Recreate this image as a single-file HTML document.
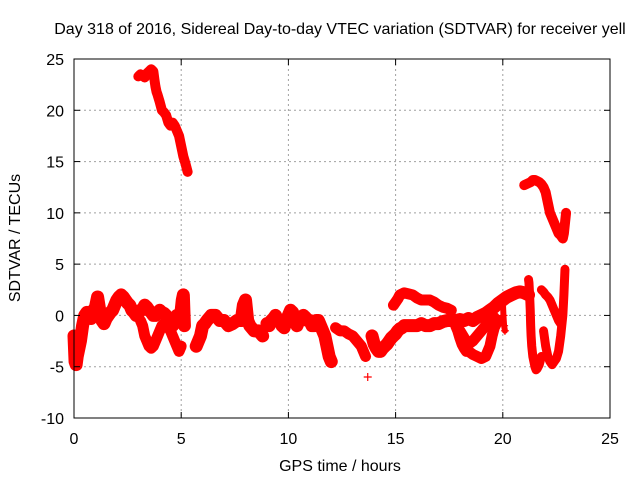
<!DOCTYPE html>
<html><head><meta charset="utf-8"><style>
body{margin:0;background:#fff;}
svg text{font-family:"Liberation Sans",sans-serif;font-size:16px;fill:#000;}
</style></head><body>
<svg id="chart" width="640" height="480" xmlns="http://www.w3.org/2000/svg">
<rect width="640" height="480" fill="#fff"/>
<g id="grid"></g>
<g id="marks"></g>
<g id="axes"></g>
<text x="340" y="34" text-anchor="middle">Day 318 of 2016, Sidereal Day-to-day VTEC variation (SDTVAR) for receiver yell</text>
<text x="340" y="471" text-anchor="middle">GPS time / hours</text>
<text x="0" y="0" text-anchor="middle" transform="translate(20,238) rotate(-90)">SDTVAR / TECUs</text>
</svg>
<script>
const xTicks=[0,5,10,15,20,25];
const yTicks=[-10,-5,0,5,10,15,20,25];
const tA_t=[0.0,0.05,0.1,0.15,0.2,0.3,0.4,0.5,0.6,0.7,0.8,0.9,1.0,1.1,1.2,1.3,1.4,1.5,1.6,1.7,1.8,1.9,2.0,2.1,2.2,2.3,2.4,2.5,2.6,2.7,2.8,2.9,3.0,3.1,3.2,3.3,3.4,3.5,3.6,3.7,3.8,3.9,4.0,4.1,4.2,4.3,4.4,4.5,4.6,4.7,4.8,4.9,5.0,5.05,5.1,5.15];
const tA_v=[-2,-4.5,-4.8,-4,-3.5,-2.5,-1,0,0.3,0,-0.3,0.5,0.8,1.8,0.5,-0.5,-0.8,-0.3,0,0.3,0.5,1.0,1.5,1.8,2.0,1.8,1.5,1.2,1.0,0.5,0.3,0,0.2,0.5,0.6,1.0,0.8,0.5,0.3,0,0,0.2,0.5,0.3,0.2,0,-0.5,-0.8,-1,-0.5,0,-0.5,0.5,1.5,2,-1];
const tB_t=[3.1,3.2,3.3,3.4,3.5,3.6,3.7,3.8,3.9,4.0,4.1,4.2,4.3,4.4,4.5,4.6,4.7,4.8,4.9,5.0];
const tB_v=[-0.5,-1,-2,-2.5,-3,-3.2,-3,-2.5,-2,-1.5,-1,-0.8,-1,-1.2,-1.5,-2,-2.5,-3,-3.5,-3];
const tC_t=[5.7,5.8,5.9,6.0,6.1,6.2,6.4,6.6,6.8,7.0,7.2,7.4,7.6,7.8,7.9,8.0,8.1,8.2,8.4,8.6,8.8];
const tC_v=[-3,-2.5,-2,-1,-0.8,-0.5,0,0,-0.5,-0.5,-1,-0.8,-0.5,-0.5,1,1.5,-0.5,-1,-1.5,-1.5,-2];
const tD_t=[9.0,9.1,9.2,9.3,9.4,9.5,9.6,9.7,9.8,9.9,10.0,10.1,10.2,10.3,10.4,10.5,10.6,10.7,10.8,10.9,11.0,11.1,11.2,11.3,11.4,11.5,11.6,11.7,11.8,11.9,12.0];
const tD_v=[-0.8,-1,-0.5,-0.3,0,-0.5,-0.5,-1,-1.2,-0.5,0,0.5,0.3,-0.5,-1,-0.5,-0.3,0,-0.2,-0.5,-0.5,-1,-1,-0.5,-0.5,-1,-1.5,-2,-3,-4,-4.5];
const tE_t=[12.2,12.4,12.6,12.8,13.0,13.2,13.4,13.5,13.6];
const tE_v=[-1.2,-1.5,-1.5,-1.8,-2,-2.5,-3,-3.5,-4];
const tP_t=[13.7];
const tP_v=[-6];
const tF_t=[13.9,14.0,14.1,14.2,14.3,14.4,14.5,14.6,14.7,14.8,14.9,15.0,15.1,15.2,15.3,15.4,15.6,15.8,16.0,16.2,16.4,16.6,16.8,17.0,17.2,17.4,17.6,17.8,18.0,18.2,18.4,18.6,18.8,19.0,19.2,19.4,19.6,19.8,20.0,20.2,20.4,20.6,20.8,21.0,21.2];
const tF_v=[-2,-2.8,-3.2,-3.5,-3.5,-3.2,-3,-2.8,-2.5,-2.2,-2,-1.8,-1.5,-1.3,-1.2,-1,-1,-1,-1,-0.8,-1,-1,-0.8,-0.8,-0.6,-0.5,-0.5,-0.5,-0.4,-0.5,-0.3,-0.5,-0.2,0,0.2,0.5,0.8,1.2,1.5,1.8,2.0,2.2,2.3,2.2,2.0];
const tG_t=[14.9,15.0,15.1,15.2,15.4,15.6,15.8,16.0,16.2,16.4,16.6,16.8,17.0,17.2,17.4,17.6];
const tG_v=[1,1.3,1.6,2.0,2.2,2.1,2.0,1.7,1.5,1.5,1.5,1.3,1.0,0.8,0.7,0.5];
const tH_t=[17.8,17.9,18.0,18.1,18.2,18.3,18.4,18.6,18.8,19.0,19.2,19.3,19.4,19.5,19.6,19.7,19.8];
const tH_v=[-1,-1.5,-2.2,-2.8,-3.2,-3.5,-3.5,-3.8,-4,-4.2,-4,-3.5,-3,-2,-1.2,-0.8,-0.5];
const tI_t=[18.0,18.2,18.4,18.6,18.8,19.0,19.2,19.4,19.6];
const tI_v=[-1.5,-2.2,-2.8,-2.5,-2,-1.5,-1,-0.5,-0.2];
const tJ_t=[21.2,21.22,21.25,21.28,21.3,21.32,21.35,21.4,21.45,21.5,21.55,21.6,21.7,21.8];
const tJ_v=[3.5,3.2,2,0.5,-1,-2,-3,-4,-4.5,-5,-5.3,-5.2,-4.8,-4];
const tK_t=[21.8,21.9,22.0,22.1,22.2,22.3,22.4,22.5,22.6,22.7,22.75,22.8];
const tK_v=[2.5,2.3,2.0,1.8,1.5,1.0,0.5,0,-0.5,-0.8,-0.5,0.5];
const tL_t=[21.9,22.0,22.1,22.2,22.3,22.4,22.5,22.6,22.7,22.8,22.85,22.9];
const tL_v=[-1.5,-3,-4,-4.5,-4.8,-4.5,-4.2,-3.5,-2,0,2,4.5];
const tM_t=[20.0,20.03,20.06,20.1];
const tM_v=[1.5,0,-1,-1.5];
const tN_t=[3.0,3.1,3.2,3.3,3.4,3.5,3.6,3.7,3.75,3.8,3.85,3.9,4.0,4.1,4.2,4.3,4.4,4.5,4.6,4.7,4.8,4.9,5.0,5.1,5.2,5.3];
const tN_v=[23.3,23.5,23.4,23.2,23.6,23.8,24,23.8,23,22.3,21.8,21.5,20.8,20,19.8,19.5,18.8,18.5,18.8,18.5,18,17.5,16.5,15.5,14.8,14];
const tO_t=[21.0,21.1,21.2,21.3,21.4,21.5,21.6,21.7,21.8,21.9,22.0,22.1,22.2,22.3,22.4,22.5,22.6,22.7,22.8,22.85,22.9,22.95];
const tO_v=[12.7,12.8,12.9,13.0,13.2,13.2,13.1,13.0,12.8,12.5,12.0,11.0,10.0,9.5,9.0,8.5,8.0,7.8,7.5,8.0,9.0,10.0];
const traces=[[tA_t,tA_v,13],[tB_t,tB_v,11],[tC_t,tC_v,13],[tD_t,tD_v,13],[tE_t,tE_v,11],[tP_t,tP_v,0],[tF_t,tF_v,13],[tG_t,tG_v,11],[tH_t,tH_v,11],[tI_t,tI_v,11],[tJ_t,tJ_v,9],[tK_t,tK_v,9],[tL_t,tL_v,9],[tM_t,tM_v,6],[tN_t,tN_v,10],[tO_t,tO_v,10]];

const X0=74,X1=610,Y0=418,Y1=59;
function xs(v){return X0+(v-0)/(25-0)*(X1-X0);}
function ys(v){return Y0-(v+10)/(35)*(Y0-Y1);}
const NS="http://www.w3.org/2000/svg";
function mk(tag,attrs,parent){const e=document.createElementNS(NS,tag);for(const k in attrs)e.setAttribute(k,attrs[k]);parent.appendChild(e);return e;}
const grid=document.getElementById('grid'),axes=document.getElementById('axes'),marks=document.getElementById('marks');
xTicks.forEach(t=>{
  const x=xs(t);
  if(t>0&&t<25){const g=mk('line',{x1:x,x2:x,y1:Y1,y2:Y0,stroke:'#a0a0a0','stroke-dasharray':'2,3'},grid);
  
  }
  mk('line',{x1:x,x2:x,y1:Y0,y2:Y0-6,stroke:'#000'},axes);
  mk('line',{x1:x,x2:x,y1:Y1,y2:Y1+6,stroke:'#000'},axes);
  const tx=mk('text',{x:x,y:Y0+26,'text-anchor':'middle'},axes);tx.textContent=t;
  
  
});
yTicks.forEach(t=>{
  const y=ys(t);
  if(t>-10&&t<25){const g=mk('line',{x1:X0,x2:X1,y1:y,y2:y,stroke:'#a0a0a0','stroke-dasharray':'2,3'},grid);
  
  }
  mk('line',{x1:X0,x2:X0+6,y1:y,y2:y,stroke:'#000'},axes);
  mk('line',{x1:X1,x2:X1-6,y1:y,y2:y,stroke:'#000'},axes);
  const tx=mk('text',{x:X0-10,y:y+6,'text-anchor':'end'},axes);tx.textContent=t;
  
  
});
const fr=mk('rect',{x:X0,y:Y1,width:X1-X0,height:Y0-Y1,fill:'none',stroke:'#000'},axes);


traces.forEach(([T,V,w])=>{
  if(T.length>1){
  const pts=T.map((t,i)=>xs(t)+','+ys(V[i])).join(' ');
  const pl=mk('polyline',{points:pts,fill:'none',stroke:'#f00','stroke-width':w,'stroke-linejoin':'round','stroke-linecap':'round'},marks);
  
  
  }
  T.forEach((t,i)=>{
    const x=xs(t),y=ys(V[i]);
    const p=mk('path',{d:`M${x-4},${y}h8M${x},${y-4}v8`,stroke:'#f00','stroke-width':1.2},marks);
    
    
  });
});
</script>
</body></html>
